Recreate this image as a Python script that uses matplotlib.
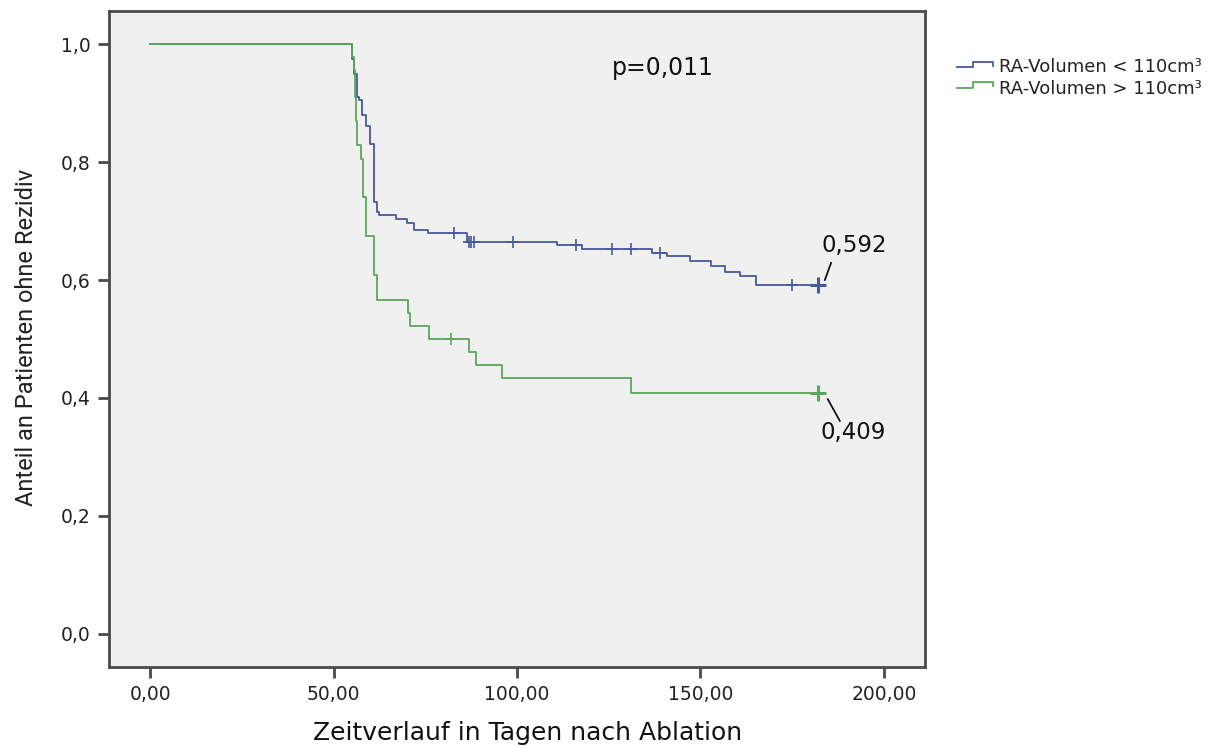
import matplotlib
matplotlib.use("Agg")
import matplotlib.pyplot as plt
import numpy as np
from matplotlib.lines import Line2D

# ---------------- data ----------------
blue_label = "RA-Volumen < 110cm³"
green_label = "RA-Volumen > 110cm³"

blue_times = [0, 55.0, 55.5, 56.4, 57.0, 57.7, 58.8, 60.0, 60.9, 61.8, 62.5, 67.0, 70.0,
              72.0, 75.8, 86.5, 111.0, 117.6, 136.7, 140.8, 147.2, 153.0, 156.7, 160.8,
              165.1, 182.0]
blue_surv = [1.0, 0.975, 0.95, 0.911, 0.905, 0.88, 0.861, 0.83, 0.733, 0.716, 0.71, 0.703,
             0.697, 0.685, 0.68, 0.665, 0.659, 0.652, 0.646, 0.64, 0.633, 0.623, 0.613,
             0.606, 0.592, 0.592]
blue_censor = [82.8, 86.8, 87.5, 88.2, 98.8, 116.0, 126.0, 131.0, 139.0, 175.0]
blue_end = 182.0

green_times = [0, 55.0, 55.5, 55.8, 56.0, 56.3, 57.4, 58.0, 58.8, 60.9, 61.9, 70.2, 70.8,
               76.0, 87.0, 88.7, 96.0, 131.0, 182.0]
green_surv = [1.0, 0.978, 0.956, 0.91, 0.87, 0.829, 0.805, 0.741, 0.675, 0.608, 0.566,
              0.544, 0.522, 0.5, 0.478, 0.456, 0.434, 0.409, 0.409]
green_censor = [82.0]
green_end = 182.0

p_text = "p=0,011"
blue_final_label = "0,592"
green_final_label = "0,409"

xticks = [0, 50, 100, 150, 200]
xtick_labels = ["0,00", "50,00", "100,00", "150,00", "200,00"]
yticks = [0.0, 0.2, 0.4, 0.6, 0.8, 1.0]
ytick_labels = ["0,0", "0,2", "0,4", "0,6", "0,8", "1,0"]

xlabel = "Zeitverlauf in Tagen nach Ablation"
ylabel = "Anteil an Patienten ohne Rezidiv"

# ---------------- style ----------------
BLUE = "#47599b"
GREEN = "#5aa75a"
FRAME = "#4a4a4a"
W, H = 1217, 746

def surv_at(times, surv, t):
    idx = np.searchsorted(np.asarray(times), t, side="right") - 1
    return np.asarray(surv)[idx]

fig = plt.figure(figsize=(W / 100, H / 100), dpi=100)
fig.patch.set_facecolor("white")
ax = fig.add_axes([109 / W, 1 - 667 / H, (925 - 109) / W, (667 - 11) / H])
ax.set_facecolor("#f0f0f0")

ax.step(blue_times, blue_surv, where="post", color=BLUE, lw=1.3, zorder=2)
ax.step(green_times, green_surv, where="post", color=GREEN, lw=1.3, zorder=3)

bc_y = [surv_at(blue_times, blue_surv, t) for t in blue_censor]
ax.plot(blue_censor, bc_y, ls="none", marker="+", ms=9, mew=1.2, color=BLUE, zorder=4)
gc_y = [surv_at(green_times, green_surv, t) for t in green_censor]
ax.plot(green_censor, gc_y, ls="none", marker="+", ms=9, mew=1.2, color=GREEN, zorder=4)

b_end_y = surv_at(blue_times, blue_surv, blue_end)
g_end_y = surv_at(green_times, green_surv, green_end)
ax.plot([blue_end], [b_end_y], ls="none", marker="+", ms=11, mew=2.2, color=BLUE, zorder=5)
ax.plot([green_end], [g_end_y], ls="none", marker="+", ms=11, mew=2.2, color=GREEN, zorder=5)

ax.set_xlim(-11.2, 211.2)
ax.set_ylim(-0.056, 1.056)
ax.set_xticks(xticks)
ax.set_xticklabels(xtick_labels)
ax.set_yticks(yticks)
ax.set_yticklabels(ytick_labels)
ax.tick_params(axis="both", direction="out", length=8, width=2, color=FRAME,
               labelsize=13.5, labelcolor="#222222", pad=5)
for s in ax.spines.values():
    s.set_color(FRAME)
    s.set_linewidth(2)

# annotations
ax.text(125.9, 0.959, p_text, fontsize=17, va="center", ha="left", color="#111111")
ax.text(183.1, 0.658, blue_final_label, fontsize=16.5, va="center", ha="left", color="#111111")
ax.plot([183.9, 185.6], [0.600, 0.629], color="black", lw=1.2, zorder=6)
ax.text(182.6, 0.341, green_final_label, fontsize=16.5, va="center", ha="left", color="#111111")
ax.plot([184.7, 188.0], [0.398, 0.361], color="black", lw=1.2, zorder=6)

# axis labels
fig.text(528 / W, 1 - 733 / H, xlabel, fontsize=18, ha="center", va="center", color="#111111")
fig.text(27 / W, 1 - 337 / H, ylabel, fontsize=17, rotation=90, ha="center", va="center",
         color="#222222", family=["Roboto", "DejaVu Sans"])

# legend (custom, outside axes)
def fx(px):
    return px / W

def fy(py):
    return 1 - py / H

for (lab, col, ylow, yhigh, ytext) in [(blue_label, BLUE, 67, 61.5, 67),
                                      (green_label, GREEN, 88, 81.5, 89)]:
    xs = [957, 973, 973, 993, 993]
    ys = [ylow, ylow, yhigh, yhigh, yhigh + 4]
    fig.add_artist(Line2D([fx(v) for v in xs], [fy(v) for v in ys], color=col, lw=1.3,
                          transform=fig.transFigure))
    fig.text(fx(999), fy(ytext), lab, fontsize=13, ha="left", va="center", color="#222222")

fig.savefig("out.png", dpi=100)
